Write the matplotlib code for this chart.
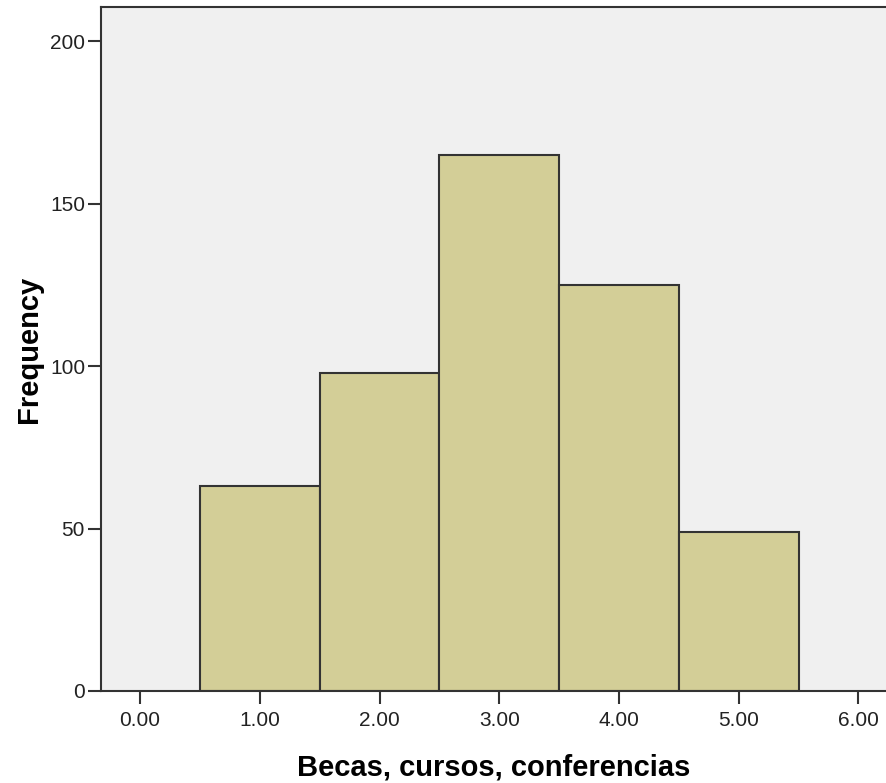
import numpy as np
import matplotlib
matplotlib.use("Agg")
import matplotlib.pyplot as plt

# 数据
bin_centers = [1.0, 2.0, 3.0, 4.0, 5.0]
frequencies = [63, 98, 165, 125, 49]
x_ticks = [0, 1, 2, 3, 4, 5, 6]
x_tick_labels = ["0.00", "1.00", "2.00", "3.00", "4.00", "5.00", "6.00"]
y_ticks = [0, 50, 100, 150, 200]

plt.rcParams["font.family"] = ["Liberation Sans", "DejaVu Sans"]

fig = plt.figure(figsize=(8.86, 7.83), dpi=100)
ax = fig.add_axes([101 / 886, 92 / 783, 785 / 886, 684 / 783])
ax.set_facecolor("#f0f0f0")

ax.bar(bin_centers, frequencies, width=1.0, color="#d3ce97",
       edgecolor="#333333", linewidth=1.5)

ax.set_xlim(-0.326, 6.23)
ax.set_ylim(0, 210.5)
ax.set_xticks(x_ticks)
ax.set_xticklabels(x_tick_labels)
ax.set_yticks(y_ticks)

ax.spines["right"].set_visible(False)
for s in ["left", "bottom", "top"]:
    ax.spines[s].set_color("#333333")
    ax.spines[s].set_linewidth(1.5)
ax.tick_params(axis="both", direction="out", length=9.5, width=1.5,
               color="#333333", labelsize=15, labelcolor="#222222")
ax.tick_params(axis="x", pad=5)
ax.tick_params(axis="y", pad=2)

ax.set_xlabel("Becas, cursos, conferencias", fontsize=21, fontweight="bold",
              labelpad=16.5)
ax.set_ylabel("Frequency", fontsize=21, fontweight="bold", labelpad=5)

fig.savefig("out.png", dpi=100, facecolor="white")
